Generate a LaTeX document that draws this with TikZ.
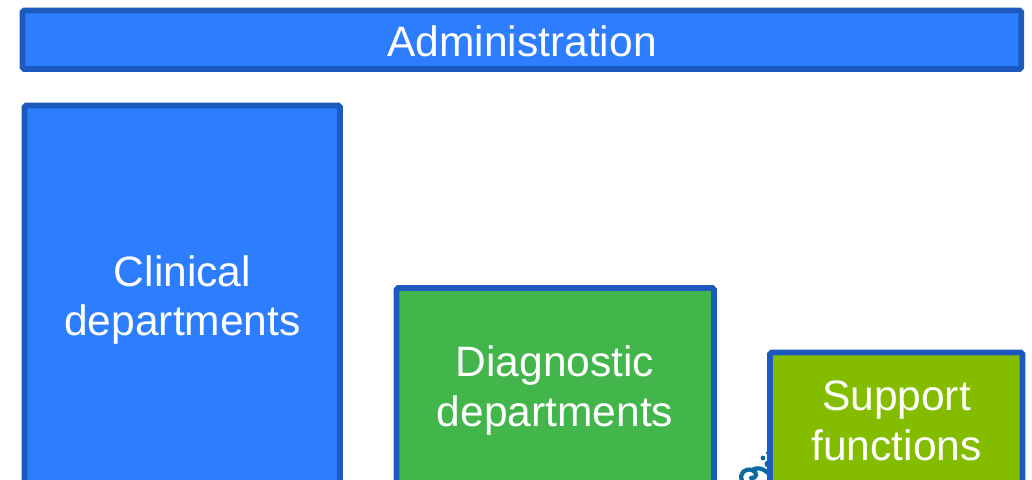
\documentclass[tikz,border=0pt]{standalone}
\usepackage{fontspec}
\setmainfont{Liberation Sans}
\definecolor{boxblue}{RGB}{45,125,255}
\definecolor{boxgreen}{RGB}{66,182,75}
\definecolor{boxlime}{RGB}{132,189,0}
\definecolor{boxline}{RGB}{30,90,190}
\definecolor{curl}{RGB}{10,105,160}
\tikzset{
  dept/.style={draw=boxline,line width=3.3pt,rounded corners=1pt,inner sep=0pt,outer sep=0pt,anchor=north west},
  depttext/.style={text=white,align=center,font=\fontsize{24.2}{28.4}\selectfont},
  curlline/.style={draw=curl,line width=2.4pt,line cap=round}
}
\begin{document}
\begin{tikzpicture}[x=0.02cm,y=-0.02cm]
\useasboundingbox (0,0) rectangle (1032,480);
\clip (0,0) rectangle (1032,480);
% ornament at the foot of the gap
\draw[curlline] (742,481) .. controls (739,473) and (745,468) .. (752,470) .. controls (758,472) and (757,479) .. (751,478);
\draw[curlline] (752,470) .. controls (757,467) and (763,468) .. (768,473);
\fill[curl] (763,458) circle (2.4) (767,453) circle (1.3) (768,464) circle (3.5);
\node[dept,fill=boxblue,minimum width=19.98cm,minimum height=1.17cm] (admin) at (22.5,10.5) {};
\node[dept,fill=boxblue,minimum width=6.31cm,minimum height=9cm] (clinical) at (24.5,105.5) {};
\node[dept,fill=boxgreen,minimum width=6.35cm,minimum height=6cm] (diagnostic) at (396.5,288) {};
\node[dept,fill=boxlime,minimum width=5.05cm,minimum height=5cm] (support) at (770,352.5) {};
\node[depttext] (admintext) at (522,41) {Administration};
\node[depttext] (clinicaltext) at (182.5,300) {Clinical\\departments};
\node[depttext] (diagnostictext) at (555,390.5) {Diagnostic\\departments};
\node[depttext] (supporttext) at (896.5,420.5) {Support\\functions};
\end{tikzpicture}
\end{document}
